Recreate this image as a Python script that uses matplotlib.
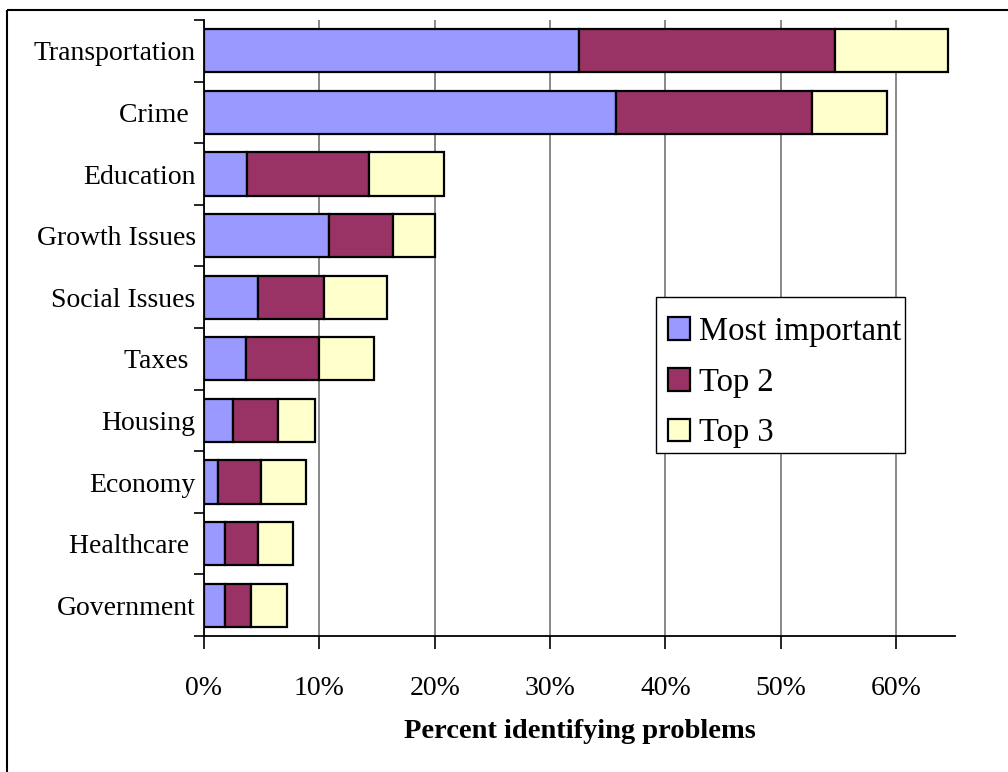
import matplotlib
matplotlib.use("Agg")
import matplotlib.pyplot as plt
from matplotlib.patches import Rectangle, Patch
from matplotlib.ticker import FuncFormatter, FixedLocator
import numpy as np

categories = ["Transportation", "Crime ", "Education", "Growth Issues", "Social Issues",
              "Taxes ", "Housing", "Economy", "Healthcare ", "Government"]
most_important = [32.5, 35.7, 3.7, 10.8, 4.7, 3.6, 2.5, 1.2, 1.8, 1.8]
top2 = [22.2, 17.0, 10.6, 5.6, 5.7, 6.4, 3.9, 3.7, 2.9, 2.3]
top3 = [9.8, 6.5, 6.5, 3.6, 5.5, 4.7, 3.2, 3.9, 3.0, 3.1]
series_names = ["Most important", "Top 2", "Top 3"]
colors = ["#9999FF", "#993366", "#FFFFCC"]
xticks = [0, 10, 20, 30, 40, 50, 60]
xlabel = "Percent identifying problems"

plt.rcParams['font.family'] = ['Liberation Serif', 'DejaVu Serif']

W, H = 1008, 772
fig = plt.figure(figsize=(W / 100, H / 100), dpi=100)

# outer frame (cut off at right and bottom)
fig.patches.append(Rectangle((7 / W, 1 - 10 / H), 2, -2, transform=fig.transFigure,
                             fill=False, edgecolor='black', linewidth=1.5))

ax = fig.add_axes([204 / W, 1 - 636 / H, (955 - 204) / W, (636 - 20) / H])

y = np.arange(len(categories))
left = np.zeros(len(categories))
for vals, name, c in zip([most_important, top2, top3], series_names, colors):
    ax.barh(y, vals, left=left, height=0.70, color=c, edgecolor='black',
            linewidth=1.6, label=name, zorder=3)
    left = left + np.array(vals)

ax.set_ylim(len(categories) - 0.5, -0.5)
ax.set_xlim(0, 65.1)

ax.set_yticks(y)
ax.set_yticklabels(categories, fontsize=20)
ax.yaxis.set_minor_locator(FixedLocator(np.arange(-0.5, len(categories), 1.0)))
ax.tick_params(axis='y', which='major', length=0, pad=6)
ax.tick_params(axis='y', which='minor', length=7, width=1.2, direction='out')

ax.set_xticks(xticks)
ax.xaxis.set_major_formatter(FuncFormatter(lambda v, p: f"{int(v)}%"))
ax.tick_params(axis='x', which='major', length=9, width=1.2, direction='out',
               labelsize=20, pad=20)

ax.grid(axis='x', color='#808080', linewidth=1.3, zorder=0)
ax.set_axisbelow(True)

for s in ['top', 'right']:
    ax.spines[s].set_visible(False)
ax.spines['left'].set_linewidth(1.3)
ax.spines['bottom'].set_linewidth(1.3)

ax.set_xlabel(xlabel, fontsize=20.5, fontweight='bold', labelpad=13)

# legend box (drawn separately for exact placement)
fig.patches.append(Rectangle((656 / W, 1 - 453 / H), (905 - 656) / W, (453 - 297) / H,
                             transform=fig.transFigure, facecolor='white',
                             edgecolor='black', linewidth=1.0, zorder=4))

handles = [Patch(facecolor=c, edgecolor='black', linewidth=1.6) for c in colors]
leg = fig.legend(handles, series_names, loc='upper left',
                 bbox_to_anchor=(657 / W, 1 - 305 / H),
                 fontsize=23.5, frameon=False,
                 handlelength=0.65, handleheight=0.7, handletextpad=0.3,
                 labelspacing=0.62, borderpad=0.35, borderaxespad=0)
leg.set_zorder(6)

fig.savefig("out.png", dpi=100, facecolor='white')
